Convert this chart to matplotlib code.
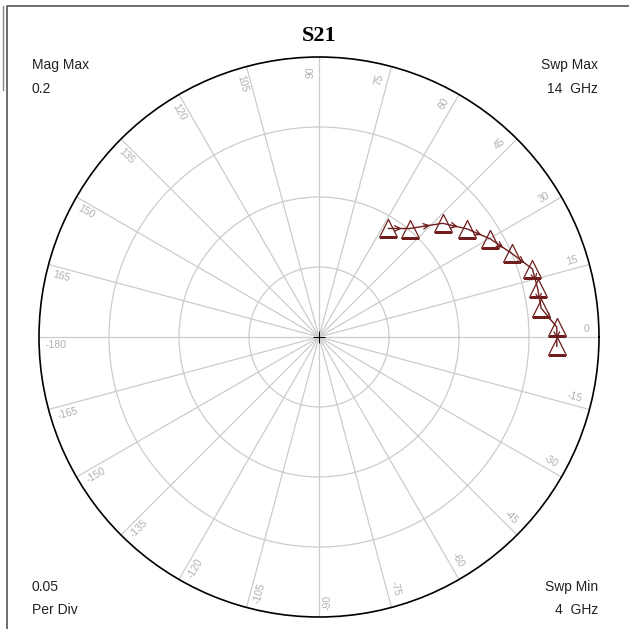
import matplotlib
matplotlib.use("Agg")
import matplotlib.pyplot as plt
import numpy as np

# S21 trace, 4 GHz .. 14 GHz in 1 GHz steps
freq_ghz = [4, 5, 6, 7, 8, 9, 10, 11, 12, 13, 14]
mag = [0.170, 0.170, 0.160, 0.160, 0.160, 0.150, 0.141, 0.131, 0.120, 0.101, 0.092]
ang_deg = [-2.2, 2.4, 7.4, 12.6, 17.7, 23.5, 29.8, 36.1, 42.6, 50.1, 57.4]

spoke_deg = np.arange(-180, 180, 15)
ring_vals = [0.05, 0.10, 0.15]
mag_max = 0.2

trace_col = "#6e1c1c"
grid_col = "#cccccc"
label_col = "#b0b0b0"

W = H = 629
fig = plt.figure(figsize=(6.29, 6.29), dpi=100)
fig.patch.set_facecolor("white")

# frame lines
frame = fig.add_axes([0, 0, 1, 1])
frame.set_xlim(0, W)
frame.set_ylim(H, 0)
frame.axis("off")
frame.plot([6.5, 6.5, W], [H, 5.5, 5.5], color="#555555", lw=1.2)
frame.plot([2.5, 2.5], [5.5, 90], color="#888888", lw=1.0)

# polar axes: centre (319, 337), radius 280 px
cx, cy, R = 319, 337, 280
ax = fig.add_axes([(cx - R) / W, (H - cy - R) / H, 2 * R / W, 2 * R / H], projection="polar")
ax.set_ylim(0, mag_max)
ax.set_thetagrids(np.arange(0, 360, 15), labels=[""] * 24)
ax.set_rgrids(ring_vals, labels=[""] * len(ring_vals))
ax.grid(True, color=grid_col, lw=0.9)
ax.spines["polar"].set_color("black")
ax.spines["polar"].set_linewidth(1.2)
ax.tick_params(length=0)

# centre cross
ax.plot(0, 0, marker="+", color="black", ms=8, mew=0.7)

# angle labels on the counter-clockwise side of each spoke, kept readable
for a in spoke_deg:
    th = np.deg2rad(a + 0.7)
    if -90 < a <= 90:
        ax.text(th, 0.193, f"{a}", rotation=a, rotation_mode="anchor",
                ha="right", va="bottom", fontsize=7.5, color=label_col,
                family="Liberation Sans")
    else:
        ax.text(th, 0.195, f"{a}", rotation=a + 180, rotation_mode="anchor",
                ha="left", va="top", fontsize=7.5, color=label_col,
                family="Liberation Sans")

# trace
th = np.deg2rad(ang_deg)
ax.plot(th, mag, color=trace_col, lw=1.0)
ax.plot(th, mag, ls="none", marker="^", ms=12.5, mfc="none", mec=trace_col, mew=0.9)

# arrowheads between points, pointing towards lower frequency
x = np.array(mag) * np.cos(th)
y = np.array(mag) * np.sin(th)
for i in range(len(x) - 1):
    x0, y0 = x[i + 1], y[i + 1]
    x1, y1 = x[i], y[i]
    pa = (x0 + 0.40 * (x1 - x0), y0 + 0.40 * (y1 - y0))
    pb = (x0 + 0.62 * (x1 - x0), y0 + 0.62 * (y1 - y0))
    ax.annotate("", xy=(np.arctan2(pb[1], pb[0]), np.hypot(*pb)),
                xytext=(np.arctan2(pa[1], pa[0]), np.hypot(*pa)),
                arrowprops=dict(arrowstyle="->", color=trace_col, lw=0.9,
                                mutation_scale=10, shrinkA=0, shrinkB=0))

# title and corner annotations
fig.text(cx / W, 1 - 36 / H, "S21", ha="center", va="center", fontsize=16,
         fontweight="bold", family="Liberation Serif")
tk = dict(fontsize=10, family="Liberation Sans", color="#222222", va="center")
fig.text(32 / W, 1 - 65 / H, "Mag Max", ha="left", **tk)
fig.text(32 / W, 1 - 89 / H, "0.2", ha="left", **tk)
fig.text(598 / W, 1 - 65 / H, "Swp Max", ha="right", **tk)
fig.text(598 / W, 1 - 89 / H, "14  GHz", ha="right", **tk)
fig.text(32 / W, 1 - 587 / H, "0.05", ha="left", **tk)
fig.text(32 / W, 1 - 610 / H, "Per Div", ha="left", **tk)
fig.text(598 / W, 1 - 587 / H, "Swp Min", ha="right", **tk)
fig.text(598 / W, 1 - 610 / H, "4  GHz", ha="right", **tk)

fig.savefig("out.png", dpi=100)
